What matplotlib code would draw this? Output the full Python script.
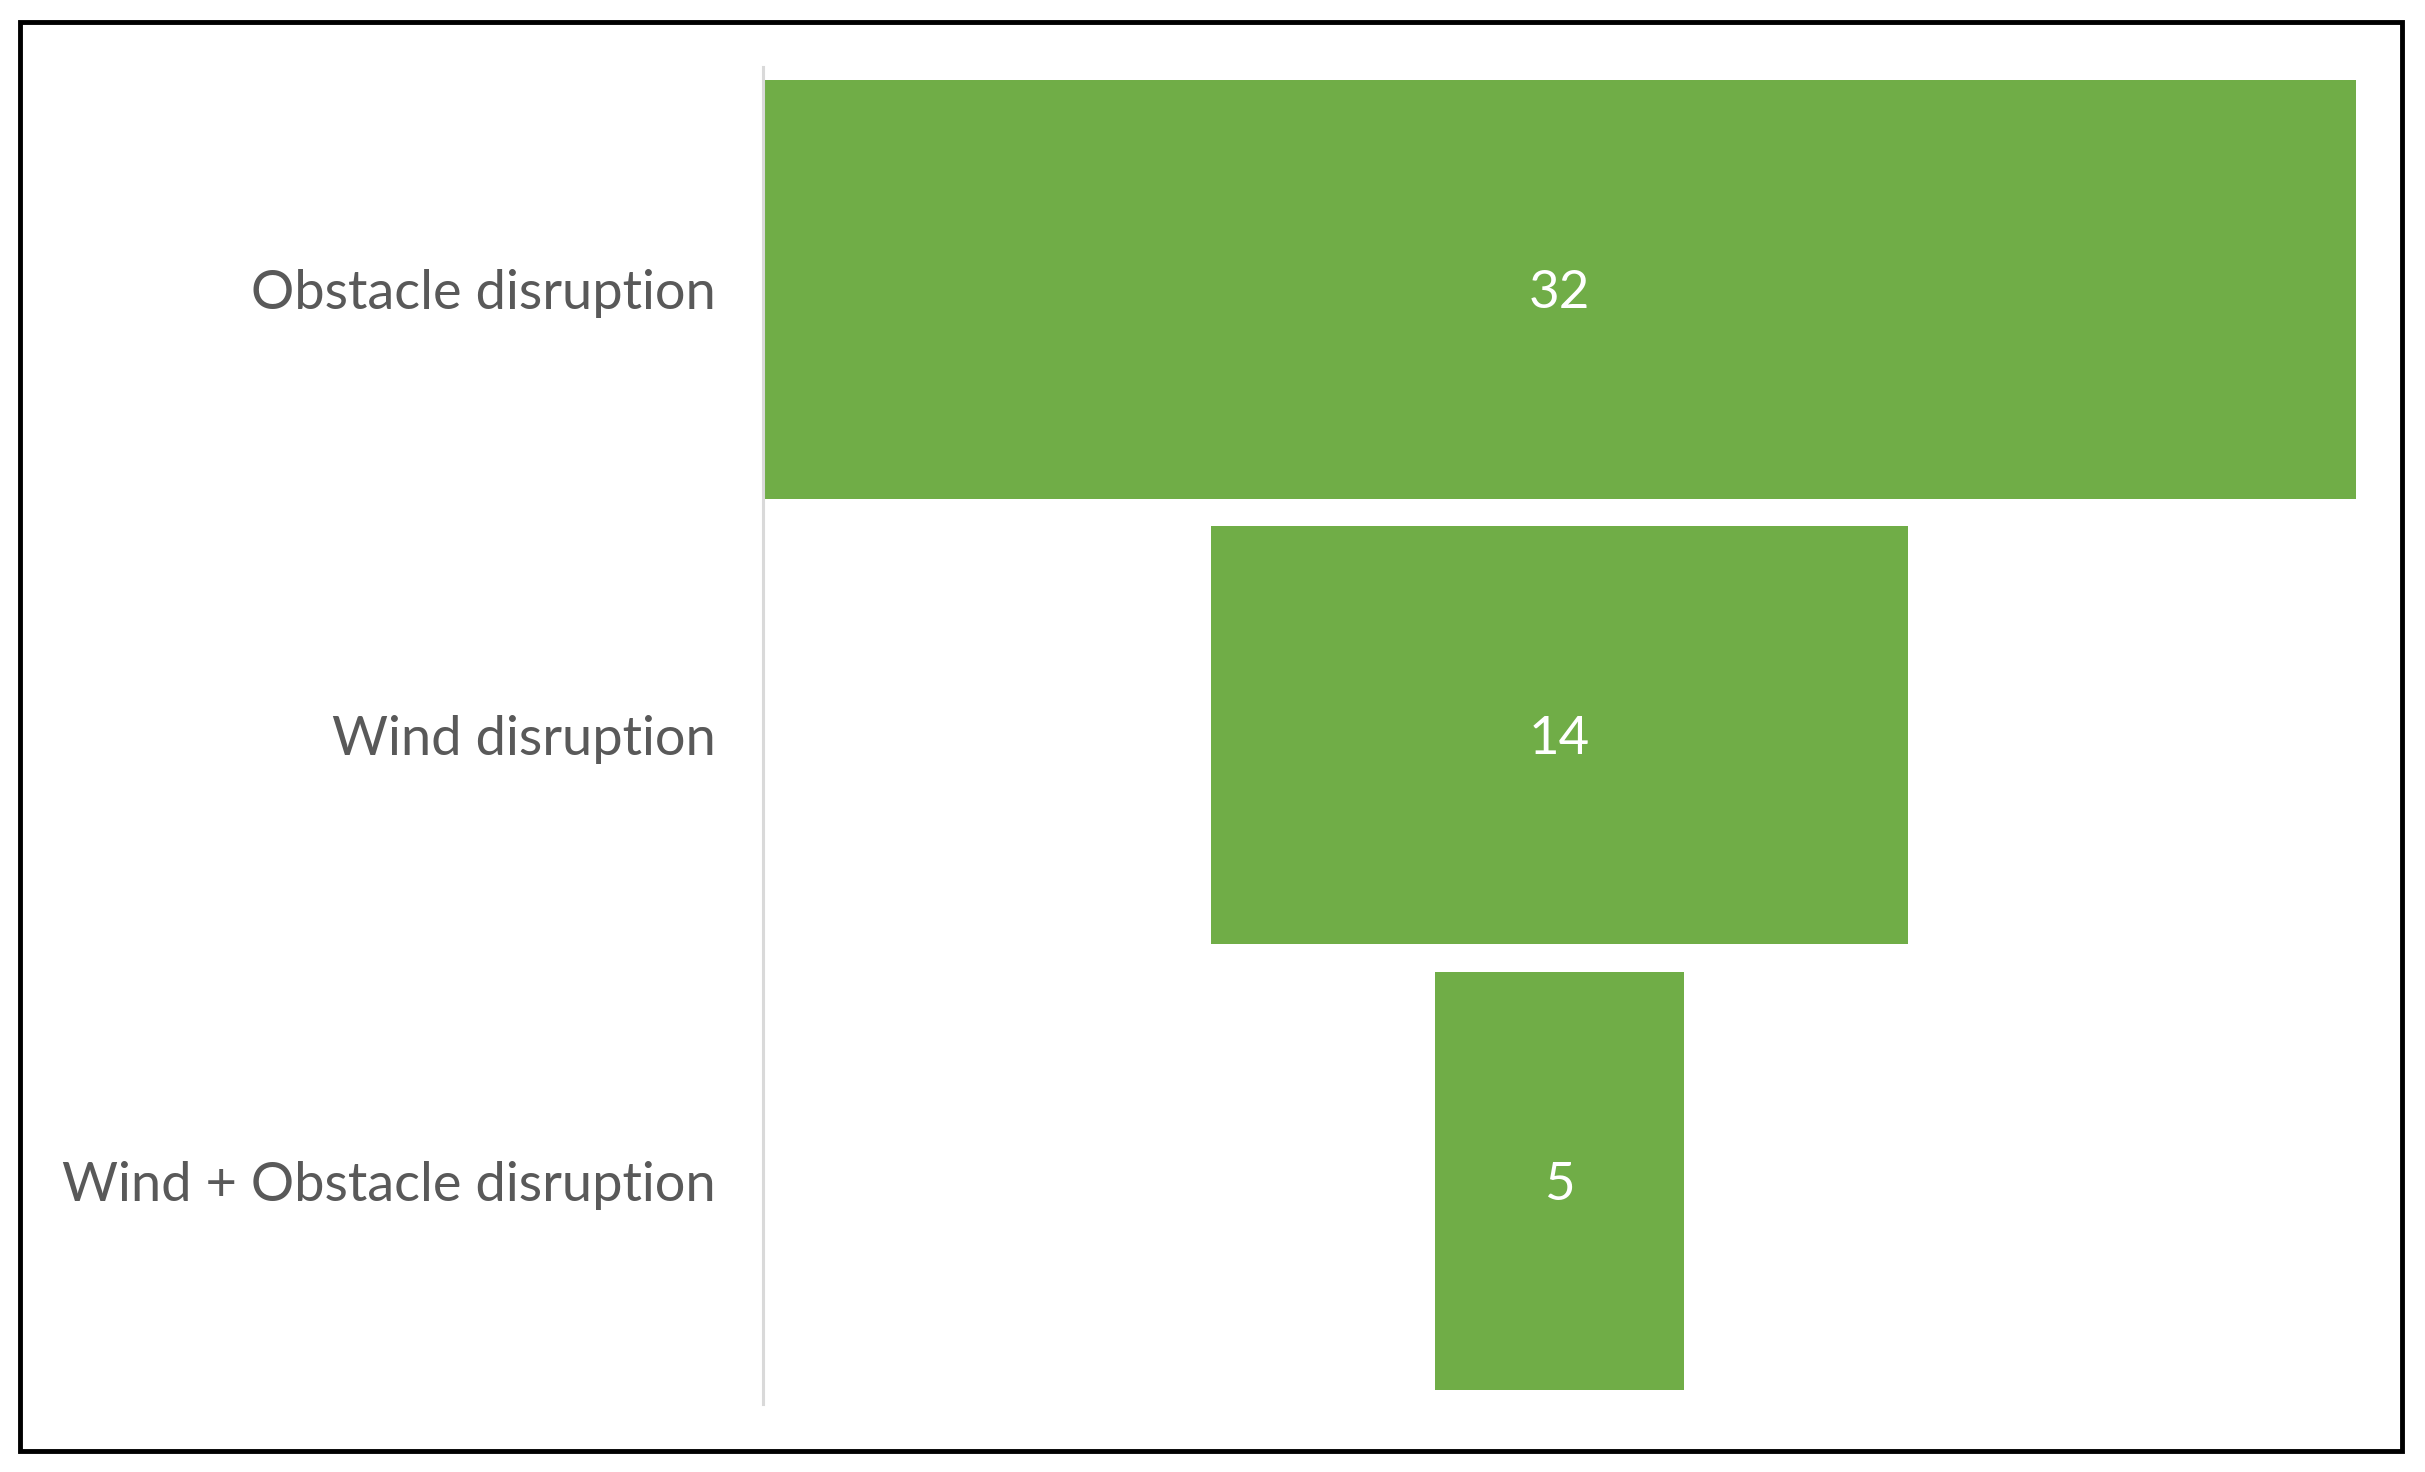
import matplotlib.pyplot as plt
import matplotlib.patches as patches

categories = ['Obstacle disruption', 'Wind disruption', 'Wind + Obstacle disruption']
counts = [32, 14, 5]

plt.rcParams['font.family'] = ['Lato', 'DejaVu Sans']

fig = plt.figure(figsize=(24.25, 14.72), dpi=100)
ax = fig.add_axes([0.3146, 0.0462, 0.657, 0.9086])

top = max(counts)
ypos = list(range(len(counts)))[::-1]
lefts = [(top - c) / 2 for c in counts]
bars = ax.barh(ypos, counts, left=lefts, height=0.938, color='#70AD47')

for b, c in zip(bars, counts):
    ax.text(b.get_x() + b.get_width() / 2, b.get_y() + b.get_height() / 2, str(c),
            ha='center', va='center_baseline', color='white', fontsize=38)

ax.set_xlim(0, top)
ax.set_ylim(-0.5, len(counts) - 0.5)
ax.set_yticks(ypos)
ax.set_yticklabels(categories, fontsize=39, color='#595959')
ax.tick_params(axis='y', length=0, pad=34)
ax.set_xticks([])
for s in ['top', 'right', 'bottom']:
    ax.spines[s].set_visible(False)
ax.spines['left'].set_color('#D9D9D9')
ax.spines['left'].set_linewidth(2.2)

# black frame around the whole chart
fig.patches.append(patches.Rectangle((20 / 2425, 1 - 1451 / 1472), 2382 / 2425, 1429 / 1472,
                                     transform=fig.transFigure, fill=False,
                                     edgecolor='black', linewidth=3.5))

fig.savefig('out.png', dpi=100)
